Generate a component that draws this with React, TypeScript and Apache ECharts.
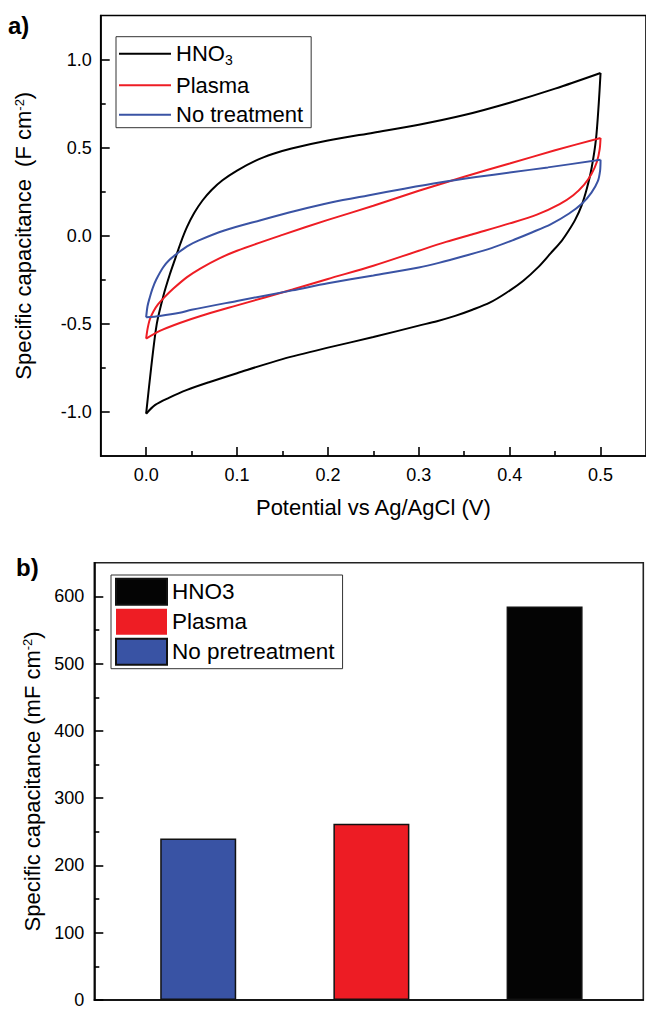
import React, { useEffect, useRef } from "react";
import * as echarts from "echarts";

// ---- Panel a: cyclic voltammograms (potential V, capacitance F cm-2) ----
const hno3Anodic = [[0,-1.01],[0.0055,-0.75],[0.0117,-0.5],[0.019,-0.34],[0.026,-0.22],[0.032,-0.13],[0.038,-0.04],[0.045,0.05],[0.053,0.13],[0.062,0.2],[0.072,0.26],[0.084,0.315],[0.1,0.37],[0.12,0.425],[0.14,0.465],[0.16,0.495],[0.2,0.54],[0.25,0.585],[0.3,0.63],[0.35,0.685],[0.4,0.755],[0.45,0.835],[0.5,0.924]];
const hno3Cathodic = [[0.5,0.924],[0.498,0.75],[0.495,0.55],[0.49,0.38],[0.485,0.27],[0.479,0.17],[0.472,0.09],[0.465,0.03],[0.457,-0.03],[0.445,-0.1],[0.432,-0.175],[0.415,-0.255],[0.396,-0.325],[0.378,-0.38],[0.359,-0.42],[0.34,-0.455],[0.32,-0.485],[0.3,-0.51],[0.25,-0.575],[0.2,-0.635],[0.15,-0.7],[0.1,-0.78],[0.07,-0.83],[0.045,-0.875],[0.025,-0.92],[0.01,-0.96],[0,-1.01]];
const plasmaAnodic = [[0,-0.584],[0.0015,-0.53],[0.004,-0.475],[0.008,-0.43],[0.013,-0.39],[0.02,-0.35],[0.03,-0.3],[0.045,-0.235],[0.06,-0.185],[0.08,-0.13],[0.1,-0.085],[0.15,0.005],[0.2,0.09],[0.25,0.17],[0.3,0.255],[0.35,0.335],[0.4,0.41],[0.45,0.485],[0.5,0.555]];
const plasmaCathodic = [[0.5,0.555],[0.499,0.49],[0.496,0.42],[0.49,0.35],[0.482,0.29],[0.47,0.23],[0.455,0.18],[0.43,0.12],[0.4,0.07],[0.36,0.01],[0.33,-0.035],[0.3,-0.085],[0.25,-0.17],[0.2,-0.245],[0.161,-0.305],[0.1,-0.395],[0.06,-0.455],[0.037,-0.495],[0.015,-0.54],[0,-0.584]];
const untreatedAnodic = [[0,-0.463],[0.0015,-0.4],[0.004,-0.35],[0.007,-0.3],[0.011,-0.25],[0.0186,-0.18],[0.026,-0.135],[0.0344,-0.1],[0.045,-0.06],[0.058,-0.026],[0.086,0.03],[0.125,0.087],[0.165,0.142],[0.2045,0.19],[0.244,0.229],[0.284,0.267],[0.323,0.302],[0.363,0.333],[0.402,0.36],[0.442,0.388],[0.5,0.431]];
const untreatedCathodic = [[0.5,0.431],[0.4995,0.37],[0.497,0.31],[0.49,0.245],[0.48,0.185],[0.465,0.125],[0.445,0.065],[0.425,0.02],[0.406,-0.02],[0.38,-0.07],[0.35,-0.115],[0.322,-0.154],[0.3,-0.18],[0.25,-0.225],[0.2,-0.27],[0.161,-0.31],[0.1,-0.37],[0.05,-0.42],[0.037,-0.437],[0.015,-0.455],[0,-0.463]];

const cvLegend = ["HNO₃", "Plasma", "No treatment"];
const cvXMajor = [0, 0.1, 0.2, 0.3, 0.4, 0.5];
const cvXMinor = [0.05, 0.15, 0.25, 0.35, 0.45];
const cvYMajor = [-1, -0.5, 0, 0.5, 1];
const cvYMinor = [-0.75, -0.25, 0.25, 0.75];

// ---- Panel b: bar chart (mF cm-2) ----
const barNames = ["HNO3", "Plasma", "No pretreatment"];
const barPositions = [3, 2, 1];
const barValues = [585, 262, 240];
const barColors = ["#040404", "#ed1c24", "#3953a4"];
const barYMajor = [0, 100, 200, 300, 400, 500, 600];
const barYMinor = [50, 150, 250, 350, 450, 550];

const FONT = "'Liberation Sans', Arial, sans-serif";
const BLACK = "#000";

export default function App() {
  const ref = useRef<HTMLDivElement>(null);
  useEffect(() => {
    document.body.style.margin = "0";
    const chart = echarts.init(ref.current!, null, { renderer: "svg" });
    const axisLineStyle = { color: BLACK, width: 1.6 };
    const lineColors = ["#000000", "#ee1d24", "#3a53a4"];
    const cvData = [
      [hno3Anodic, hno3Cathodic],
      [plasmaAnodic, plasmaCathodic],
      [untreatedAnodic, untreatedCathodic],
    ];
    const lineSeries: any[] = [];
    cvData.forEach((branches, i) => {
      branches.forEach((d) => {
        lineSeries.push({
          type: "line",
          name: cvLegend[i],
          xAxisIndex: 0,
          yAxisIndex: 0,
          data: d,
          symbol: "none",
          smooth: 0.3,
          lineStyle: { color: lineColors[i], width: 2 },
          itemStyle: { color: lineColors[i] },
        });
      });
    });
    const barSeries = barNames.map((n, i) => ({
      type: "bar",
      name: n,
      xAxisIndex: 2,
      yAxisIndex: 2,
      data: [[barPositions[i], barValues[i]]],
      barWidth: 76,
      barGap: "-100%",
      itemStyle: { color: barColors[i], borderColor: "#111", borderWidth: 1.5 },
    }));

    const option: any = {
      animation: false,
      textStyle: { fontFamily: FONT, color: BLACK },
      title: [
        { text: "a)", left: 8, top: 13, padding: 0, textStyle: { fontSize: 24, fontWeight: "bold", color: BLACK, fontFamily: FONT } },
        { text: "b)", left: 16, top: 555, padding: 0, textStyle: { fontSize: 24, fontWeight: "bold", color: BLACK, fontFamily: FONT } },
      ],
      grid: [
        { left: 100.7, top: 15.5, width: 547, height: 440.5, show: true, borderColor: BLACK, borderWidth: 1.6, containLabel: false },
        { left: 94.3, top: 562.7, width: 549, height: 443.3, show: true, borderColor: "#222", borderWidth: 1.6, containLabel: false },
      ],
      legend: [
        {
          data: cvLegend,
          orient: "vertical",
          left: 116,
          top: 36.7,
          padding: [6, 8, 2, 2],
          itemGap: 7.5,
          itemWidth: 52,
          itemHeight: 26,
          selectedMode: false,
          borderColor: "#333",
          borderWidth: 1,
          itemStyle: { opacity: 0 },
          formatter: (name: string) => (name === "HNO₃" ? "{n|HNO}{s|3}" : "{n|" + name + "}"),
          textStyle: {
            fontFamily: FONT,
            color: BLACK,
            fontSize: 22,
            rich: {
              n: { fontSize: 22, fontFamily: FONT, color: BLACK },
              s: { fontSize: 14, fontFamily: FONT, color: BLACK, verticalAlign: "bottom", lineHeight: 26 },
            },
          },
        },
        {
          data: barNames,
          orient: "vertical",
          left: 111,
          top: 575,
          padding: [2.7, 8, 3, 4],
          itemGap: 3,
          itemWidth: 51,
          itemHeight: 26,
          icon: "rect",
          selectedMode: false,
          borderColor: "#333",
          borderWidth: 1,
          textStyle: { fontFamily: FONT, color: BLACK, fontSize: 22.5 },
        },
      ],
      xAxis: [
        {
          gridIndex: 0, type: "value", min: -0.05, max: 0.55, position: "bottom",
          axisLine: { show: true, onZero: false, lineStyle: axisLineStyle },
          axisTick: { show: true, inside: true, length: 9, customValues: cvXMajor, lineStyle: axisLineStyle },
          axisLabel: { customValues: cvXMajor, formatter: (v: number) => v.toFixed(1), fontSize: 18, color: BLACK, margin: 10, fontFamily: FONT },
          splitLine: { show: false },
          name: "Potential vs Ag/AgCl (V)", nameLocation: "middle", nameGap: 40,
          nameTextStyle: { fontSize: 22, color: BLACK, fontFamily: FONT },
        },
        {
          gridIndex: 0, type: "value", min: -0.05, max: 0.55, position: "bottom",
          axisLine: { show: false, onZero: false },
          axisTick: { show: true, inside: true, length: 5, customValues: cvXMinor, lineStyle: axisLineStyle },
          axisLabel: { show: false },
          splitLine: { show: false },
        },
        {
          gridIndex: 1, type: "value", min: 0.4, max: 3.57, position: "bottom",
          axisLine: { show: true, onZero: false, lineStyle: axisLineStyle },
          axisTick: { show: false },
          axisLabel: { show: false },
          splitLine: { show: false },
        },
      ],
      yAxis: [
        {
          gridIndex: 0, type: "value", min: -1.25, max: 1.25, position: "left",
          axisLine: { show: true, onZero: false, lineStyle: axisLineStyle },
          axisTick: { show: true, inside: true, length: 9, customValues: cvYMajor, lineStyle: axisLineStyle },
          axisLabel: { customValues: cvYMajor, formatter: (v: number) => v.toFixed(1), fontSize: 18, color: BLACK, margin: 9, fontFamily: FONT },
          splitLine: { show: false },
          name: "Specific capacitance  (F cm{sup|-2})", nameLocation: "middle", nameGap: 66,
          nameTextStyle: { fontSize: 22, color: BLACK, fontFamily: FONT, rich: { sup: { fontSize: 13, fontFamily: FONT, color: BLACK, verticalAlign: "top" } } },
        },
        {
          gridIndex: 0, type: "value", min: -1.25, max: 1.25, position: "left",
          axisLine: { show: false, onZero: false },
          axisTick: { show: true, inside: true, length: 5, customValues: cvYMinor, lineStyle: axisLineStyle },
          axisLabel: { show: false },
          splitLine: { show: false },
        },
        {
          gridIndex: 1, type: "value", min: 0, max: 650, position: "left",
          axisLine: { show: true, onZero: false, lineStyle: axisLineStyle },
          axisTick: { show: true, inside: true, length: 9, customValues: barYMajor, lineStyle: axisLineStyle },
          axisLabel: { customValues: barYMajor, fontSize: 18, color: BLACK, margin: 10, fontFamily: FONT },
          splitLine: { show: false },
          name: "Specific capacitance (mF cm{sup|-2})", nameLocation: "middle", nameGap: 51,
          nameTextStyle: { fontSize: 22, color: BLACK, fontFamily: FONT, rich: { sup: { fontSize: 13, fontFamily: FONT, color: BLACK, verticalAlign: "top" } } },
        },
        {
          gridIndex: 1, type: "value", min: 0, max: 650, position: "left",
          axisLine: { show: false, onZero: false },
          axisTick: { show: true, inside: true, length: 5, customValues: barYMinor, lineStyle: axisLineStyle },
          axisLabel: { show: false },
          splitLine: { show: false },
        },
      ],
      series: [...lineSeries, ...barSeries],
    };
    chart.setOption(option);
    return () => chart.dispose();
  }, []);
  return <div ref={ref} style={{ width: 646, height: 1009 }} />;
}
